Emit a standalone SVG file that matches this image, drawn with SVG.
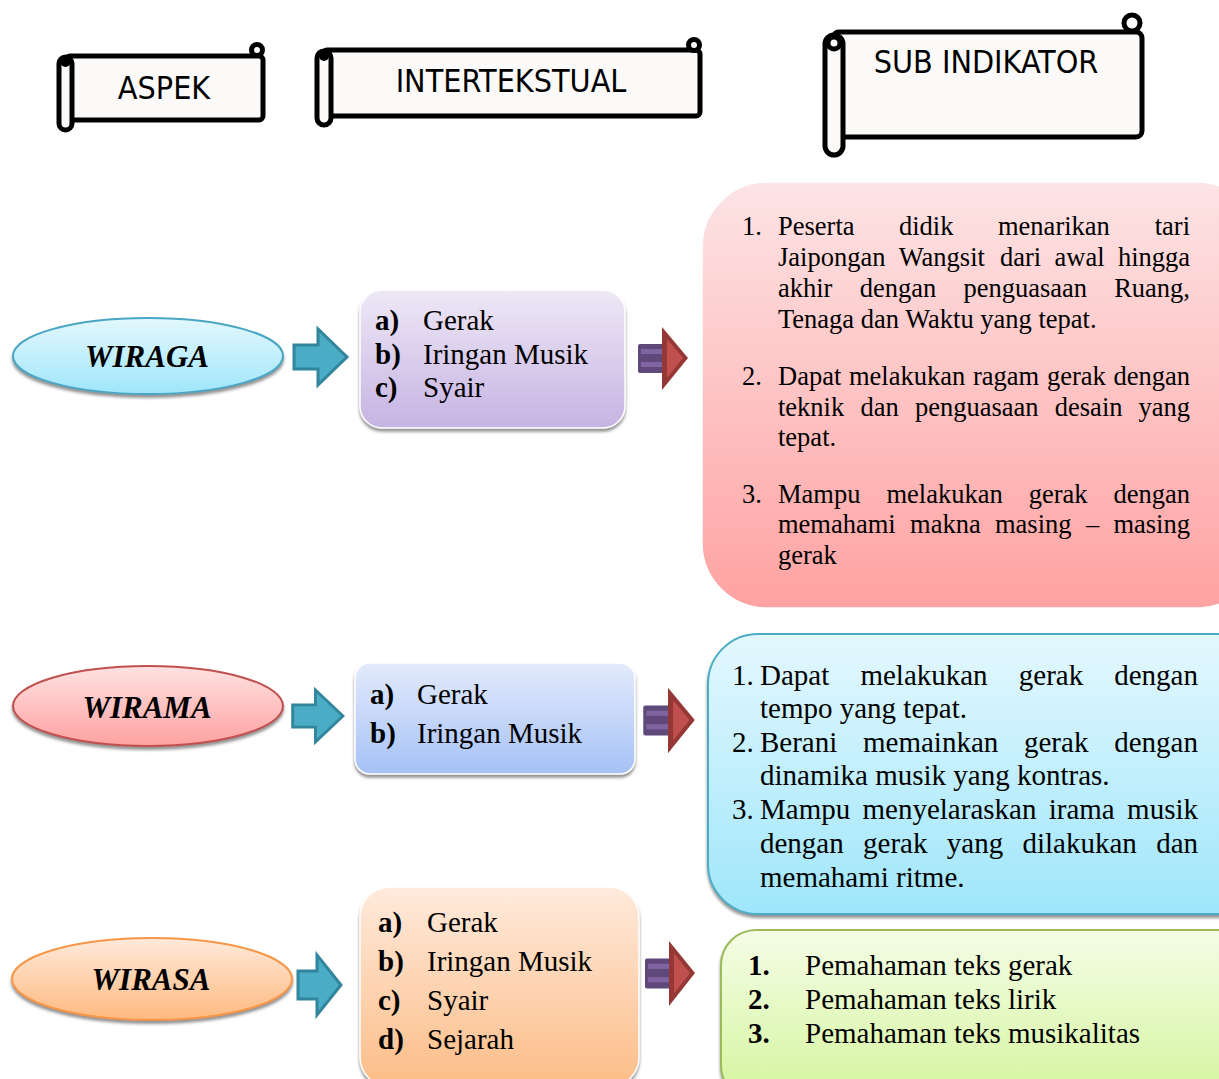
<svg xmlns="http://www.w3.org/2000/svg" width="1219" height="1079" viewBox="0 0 1219 1079">
<defs>
<linearGradient id="gCyan" x1="0" y1="0" x2="0" y2="1"><stop offset="0" stop-color="#e4f8fe"/><stop offset="1" stop-color="#9fe6fb"/></linearGradient>
<linearGradient id="gPink" x1="0" y1="0" x2="0" y2="1"><stop offset="0" stop-color="#ffe2e2"/><stop offset="1" stop-color="#ffa1a1"/></linearGradient>
<linearGradient id="gOrange" x1="0" y1="0" x2="0" y2="1"><stop offset="0" stop-color="#ffeadb"/><stop offset="1" stop-color="#ffb97f"/></linearGradient>
<linearGradient id="gPurple" x1="0" y1="0" x2="0" y2="1"><stop offset="0" stop-color="#eee8f6"/><stop offset="1" stop-color="#c6b3e3"/></linearGradient>
<linearGradient id="gBlue" x1="0" y1="0" x2="0" y2="1"><stop offset="0" stop-color="#e3ebfc"/><stop offset="1" stop-color="#a6c1f6"/></linearGradient>
<linearGradient id="gPeach" x1="0" y1="0" x2="0" y2="1"><stop offset="0" stop-color="#ffeadc"/><stop offset="1" stop-color="#fcbd87"/></linearGradient>
<linearGradient id="gRed" x1="0" y1="0" x2="0" y2="1"><stop offset="0" stop-color="#fde4e5"/><stop offset="1" stop-color="#ffa2a2"/></linearGradient>
<linearGradient id="gGreen" x1="0" y1="0" x2="0" y2="1"><stop offset="0" stop-color="#f4fde6"/><stop offset="1" stop-color="#d5f59e"/></linearGradient>
<filter id="sh" x="-10%" y="-10%" width="120%" height="130%"><feDropShadow dx="0" dy="3" stdDeviation="1.8" flood-color="#6e6e6e" flood-opacity="0.75"/></filter>
<polygon id="blueArrow" points="-53,-12 -29,-12 -29,-28 0,0 -29,28 -29,12 -53,12"/>
<g id="stripeArrow">
<rect x="-24" y="-14" width="28" height="29" rx="2" fill="#5f497a"/>
<rect x="-21" y="-9" width="22" height="5" fill="#8064a2"/>
<rect x="-21" y="4" width="22" height="5" fill="#8064a2"/>
<polygon points="0,-31 26,0 0,32" fill="#953735"/>
<polygon points="5,-19 21,0 5,20" fill="#c0504d"/>
</g>
</defs>
<style>
.scroll{fill:#fbfaf9;stroke:#000;stroke-width:5;stroke-linejoin:round}
.curl{fill:#fbfaf9;stroke:#000;stroke-width:5}
.hdr{font-family:"DejaVu Sans Condensed","DejaVu Sans",sans-serif;font-stretch:condensed;font-size:32px;fill:#000;text-anchor:middle}
.ell{font-family:"Liberation Serif","Times New Roman",serif;font-weight:bold;font-style:italic;font-size:31px;fill:#000;text-anchor:middle}
.t{font-family:"Liberation Serif","Times New Roman",serif;font-size:29px;fill:#000}
.ts{font-family:"Liberation Serif","Times New Roman",serif;font-size:26.5px;fill:#000}
.e{text-anchor:end}
.b{font-weight:bold}
.barrow{fill:#4bacc6;stroke:#31859c;stroke-width:3;stroke-linejoin:miter}
</style>

<g id="hdr-aspek">
<rect class="scroll" x="66" y="56" width="197" height="64" rx="4"/>
<rect class="scroll" x="59" y="57" width="13" height="73" rx="6.5"/>
<circle cx="65.5" cy="62" r="5" fill="#000"/>
<circle class="curl" cx="257" cy="50" r="5.5"/>
<text class="hdr" x="164" y="99">ASPEK</text>
</g>

<g id="hdr-intertekstual">
<rect class="scroll" x="323" y="50" width="377" height="66" rx="4"/>
<rect class="scroll" x="317" y="51" width="14" height="74" rx="7"/>
<circle cx="324" cy="56" r="5" fill="#000"/>
<circle class="curl" cx="694" cy="45" r="5.5"/>
<text class="hdr" x="511" y="92">INTERTEKSTUAL</text>
</g>

<g id="hdr-subindikator">
<rect class="scroll" x="833" y="32" width="309" height="105" rx="6"/>
<rect class="scroll" x="825" y="35" width="18" height="120" rx="9"/>
<circle class="curl" cx="834" cy="43" r="6"/>
<circle class="curl" cx="1132" cy="23" r="8"/>
<text class="hdr" x="986" y="73">SUB INDIKATOR</text>
</g>

<g id="wiraga">
<ellipse cx="148" cy="356" rx="135" ry="38" fill="url(#gCyan)" stroke="#4aa6c4" stroke-width="2" filter="url(#sh)"/>
<text class="ell" x="147" y="367">WIRAGA</text>
</g>
<g id="wirama">
<ellipse cx="148" cy="706" rx="135" ry="40" fill="url(#gPink)" stroke="#c0504d" stroke-width="2" filter="url(#sh)"/>
<text class="ell" x="147" y="718">WIRAMA</text>
</g>
<g id="wirasa">
<ellipse cx="152" cy="979" rx="140" ry="41" fill="url(#gOrange)" stroke="#f79646" stroke-width="2" filter="url(#sh)"/>
<text class="ell" x="151" y="990">WIRASA</text>
</g>

<g id="connectors">
<use href="#blueArrow" class="barrow" transform="translate(347,357)"/>
<use href="#blueArrow" class="barrow" transform="translate(343,716) scale(0.95,0.93)"/>
<polygon class="barrow" points="298,971 317,971 317,955 341,985 317,1015 317,999 298,999"/>
<use href="#stripeArrow" transform="translate(662,358)"/>
<use href="#stripeArrow" transform="translate(668,720) scale(1.03,1.04)"/>
<use href="#stripeArrow" transform="translate(669,973) scale(1,1.03)"/>
</g>

<g id="box-wiraga">
<rect x="360" y="290" width="265" height="138" rx="22" fill="url(#gPurple)" stroke="#ffffff" stroke-width="1.5" filter="url(#sh)"/>
<text class="t"><tspan class="b" x="375" y="330">a)</tspan><tspan x="423" y="330">Gerak</tspan></text>
<text class="t"><tspan class="b" x="375" y="364">b)</tspan><tspan x="423" y="364">Iringan Musik</tspan></text>
<text class="t"><tspan class="b" x="375" y="397">c)</tspan><tspan x="423" y="397">Syair</tspan></text>
</g>

<g id="box-wirama">
<rect x="355" y="663" width="280" height="111" rx="15" fill="url(#gBlue)" stroke="#ffffff" stroke-width="1.5" filter="url(#sh)"/>
<text class="t"><tspan class="b" x="370" y="704">a)</tspan><tspan x="417" y="704">Gerak</tspan></text>
<text class="t"><tspan class="b" x="370" y="743">b)</tspan><tspan x="417" y="743">Iringan Musik</tspan></text>
</g>

<g id="box-wirasa">
<rect x="360" y="887" width="279" height="200" rx="30" fill="url(#gPeach)" stroke="#ffffff" stroke-width="1.5" filter="url(#sh)"/>
<text class="t"><tspan class="b" x="378" y="932">a)</tspan><tspan x="427" y="932">Gerak</tspan></text>
<text class="t"><tspan class="b" x="378" y="971">b)</tspan><tspan x="427" y="971">Iringan Musik</tspan></text>
<text class="t"><tspan class="b" x="378" y="1010">c)</tspan><tspan x="427" y="1010">Syair</tspan></text>
<text class="t"><tspan class="b" x="378" y="1049">d)</tspan><tspan x="427" y="1049">Sejarah</tspan></text>
</g>

<g id="sub-wiraga">
<rect x="702" y="182" width="560" height="426" rx="65" fill="url(#gRed)" stroke="#ffffff" stroke-width="1.5"/>
<text class="ts" y="235"><tspan x="742">1.</tspan><tspan x="778">Peserta</tspan><tspan x="899">didik</tspan><tspan x="998">menarikan</tspan></text>
<text class="ts e" x="1190" y="235">tari</text>
<text class="ts" y="266"><tspan x="778">Jaipongan</tspan><tspan x="898.7">Wangsit</tspan><tspan x="1000">dari</tspan><tspan x="1054.5">awal</tspan></text>
<text class="ts e" x="1190" y="266">hingga</text>
<text class="ts" y="297"><tspan x="778">akhir</tspan><tspan x="859.7">dengan</tspan><tspan x="963.4">penguasaan</tspan></text>
<text class="ts e" x="1190" y="297">Ruang,</text>
<text class="ts" x="778" y="328">Tenaga dan Waktu yang tepat.</text>
<text class="ts" y="385"><tspan x="742">2.</tspan><tspan x="778">Dapat</tspan><tspan x="849">melakukan</tspan><tspan x="973">ragam</tspan><tspan x="1046.9">gerak</tspan></text>
<text class="ts e" x="1190" y="385">dengan</text>
<text class="ts" y="416"><tspan x="778">teknik</tspan><tspan x="860.5">dan</tspan><tspan x="915">penguasaan</tspan><tspan x="1054.8">desain</tspan></text>
<text class="ts e" x="1190" y="416">yang</text>
<text class="ts" x="778" y="446">tepat.</text>
<text class="ts" y="503"><tspan x="742">3.</tspan><tspan x="778">Mampu</tspan><tspan x="886.4">melakukan</tspan><tspan x="1028.7">gerak</tspan></text>
<text class="ts e" x="1190" y="503">dengan</text>
<text class="ts" y="533"><tspan x="778">memahami</tspan><tspan x="910.1">makna</tspan><tspan x="995">masing</tspan><tspan x="1085.9">–</tspan></text>
<text class="ts e" x="1190" y="533">masing</text>
<text class="ts" x="778" y="564">gerak</text>
</g>

<g id="sub-wirama">
<rect x="708" y="634" width="560" height="280" rx="50" fill="url(#gCyan)" stroke="#4bacc6" stroke-width="2" filter="url(#sh)"/>
<text class="t" y="685"><tspan x="732">1.</tspan><tspan x="760">Dapat</tspan><tspan x="860.4">melakukan</tspan><tspan x="1018.8">gerak</tspan></text>
<text class="t e" x="1198" y="685">dengan</text>
<text class="t" x="760" y="718">tempo yang tepat.</text>
<text class="t" y="752"><tspan x="732">2.</tspan><tspan x="760">Berani</tspan><tspan x="863">memainkan</tspan><tspan x="1024">gerak</tspan></text>
<text class="t e" x="1198" y="752">dengan</text>
<text class="t" x="760" y="785">dinamika musik yang kontras.</text>
<text class="t" y="819"><tspan x="732">3.</tspan><tspan x="760">Mampu</tspan><tspan x="862.5">menyelaraskan</tspan><tspan x="1048.7">irama</tspan></text>
<text class="t e" x="1198" y="819">musik</text>
<text class="t" y="853"><tspan x="760">dengan</tspan><tspan x="863.1">gerak</tspan><tspan x="946.8">yang</tspan><tspan x="1022.5">dilakukan</tspan></text>
<text class="t e" x="1198" y="853">dan</text>
<text class="t" x="760" y="887">memahami ritme.</text>
</g>

<g id="sub-wirasa">
<rect x="721" y="930" width="560" height="170" rx="35" fill="url(#gGreen)" stroke="#9bbb59" stroke-width="2" filter="url(#sh)"/>
<text class="t"><tspan class="b" x="748" y="975">1.</tspan><tspan x="805" y="975">Pemahaman teks gerak</tspan></text>
<text class="t"><tspan class="b" x="748" y="1009">2.</tspan><tspan x="805" y="1009">Pemahaman teks lirik</tspan></text>
<text class="t"><tspan class="b" x="748" y="1043">3.</tspan><tspan x="805" y="1043">Pemahaman teks musikalitas</tspan></text>
</g>
</svg>
